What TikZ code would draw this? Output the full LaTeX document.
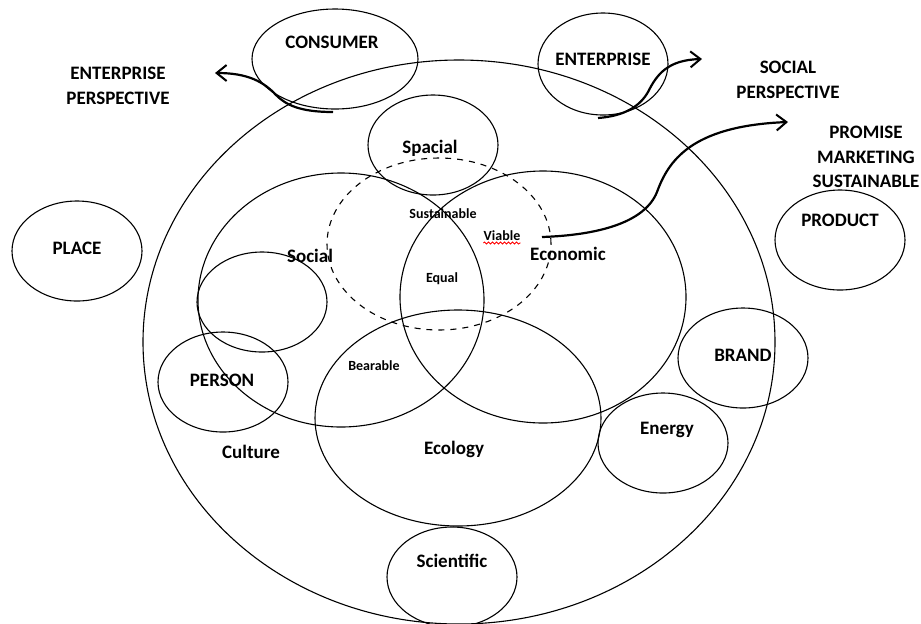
\documentclass[tikz,border=0pt]{standalone}
\usepackage{fontspec}
\setmainfont{Carlito}
\usetikzlibrary{shapes.geometric,arrows.meta,decorations.pathmorphing}

\tikzset{
  blob/.style 2 args={draw, ellipse, inner sep=0pt, line width=0.55pt,
    minimum width=#1pt, minimum height=#2pt},
  lblbig/.style={font=\bfseries\fontsize{9.5}{12}\selectfont, inner sep=0pt, anchor=base},
  lblsmall/.style={font=\bfseries\fontsize{7}{8}\selectfont, inner sep=0pt, anchor=base},
  lblhead/.style={font=\bfseries\fontsize{9.5}{12.2}\selectfont, inner sep=0pt, align=center},
  persp/.style={line width=1.1pt, -{Straight Barb[length=5pt,width=8pt,line width=1pt]}}
}

\begin{document}
\begin{tikzpicture}[x=0.5pt, y=-0.5pt]
    \useasboundingbox (0,0) rectangle (921,623);
    % circles
    \node[blob={316}{282}] (world) at (459,342) {};
    \node[blob={83}{50}] (consumer) at (335,59) {};
    \node[blob={65}{51}] (enterprise) at (603,64) {};
    \node[blob={65}{50}] (place) at (77,251) {};
    \node[blob={65}{50}] (product) at (840,240) {};
    \node[blob={65}{50}] (spacial) at (433,145) {};
    \node[blob={112}{86}, dashed] (sustain) at (439,244) {};
    \node[blob={143}{127}] (social) at (341,300) {};
    \node[blob={143}{126}] (economic) at (543,297) {};
    \node[blob={143}{108}] (ecology) at (458,418) {};
    \node[blob={65}{50}] (culture) at (262,302) {};
    \node[blob={65}{50}] (person) at (223,382) {};
    \node[blob={65}{50}] (brand) at (743,358) {};
    \node[blob={65}{50}] (energy) at (663,443) {};
    \node[blob={65}{50}] (scientific) at (452,577) {};
    % labels
    \node[lblbig] (tconsumer) at (332,48) {CONSUMER};
    \node[lblbig] (tenterprise) at (603,65) {ENTERPRISE};
    \node[lblbig] (tproduct) at (840,226) {PRODUCT};
    \node[lblbig] (tplace) at (77,254) {PLACE};
    \node[lblbig] (tspacial) at (430,153) {Spacial};
    \node[lblbig] (teconomic) at (568,260) {Economic};
    \node[lblbig] (tsocial) at (310,262) {Social};
    \node[lblbig] (tperson) at (222,386) {PERSON};
    \node[lblbig] (tculture) at (251,458) {Culture};
    \node[lblbig] (tecology) at (454,454) {Ecology};
    \node[lblbig] (tbrand) at (743,361) {BRAND};
    \node[lblbig] (tenergy) at (667,434) {Energy};
    \node[lblbig] (tscientific) at (452,567) {Scientific};
    \node[lblsmall] (tsustain) at (443,218) {Sustainable};
    \node[lblsmall] (tviable) at (502,240) {Viable};
    \node[lblsmall] (tequal) at (442,282) {Equal};
    \node[lblsmall] (tbearable) at (374,370) {Bearable};
    \node[lblhead] (hentper) at (118,86) {ENTERPRISE\\PERSPECTIVE};
    \node[lblhead] (hsocper) at (788,80) {SOCIAL\\PERSPECTIVE};
    \node[lblhead] (hpromise) at (866,157) {PROMISE\\MARKETING\\SUSTAINABLE};
    \draw[red, line width=0.4pt, decorate, decoration={snake, amplitude=0.5pt, segment length=2pt}]
        ([yshift=-1.5pt]tviable.base west) -- ([yshift=-1.5pt]tviable.base east);
    % arrows
    \coordinate (c1) at (333,112);
    \coordinate (c2) at (215,73);
    \coordinate (e1) at (598,118);
    \coordinate (e2) at (702,59);
    \coordinate (v1) at (542,237);
    \coordinate (v2) at (788,122);
    \draw[persp] (c1) .. controls (300,112) and (286,105) .. (276,95)
        .. controls (264,82) and (248,73) .. (c2);
    \draw[persp] (e1) .. controls (625,116) and (640,106) .. (648,92)
        .. controls (657,74) and (668,60) .. (e2);
    \draw[persp] (v1) .. controls (600,235) and (645,222) .. (657,192)
        .. controls (668,162) and (690,126) .. (v2);
\end{tikzpicture}
\end{document}
